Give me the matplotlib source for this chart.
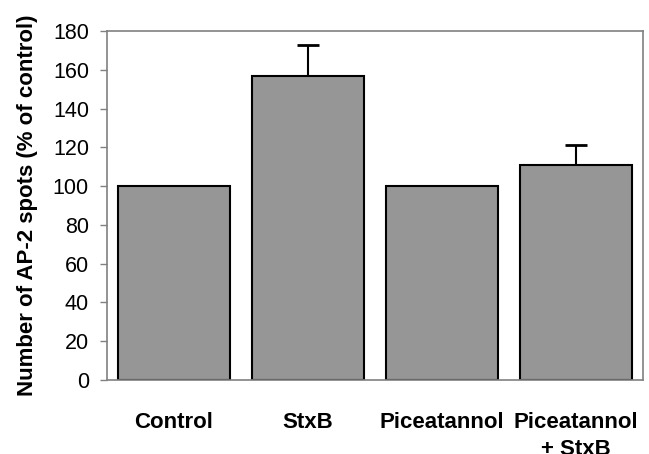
import numpy as np
import matplotlib.pyplot as plt

plt.rcParams['font.family'] = ['Liberation Sans', 'DejaVu Sans']

kategorie = ['Control', 'StxB', 'Piceatannol', 'Piceatannol\n+ StxB']
wartosci = [100, 157, 100, 111]
bledy = [0, 16, 0, 10]

fig = plt.figure(figsize=(6.49, 4.54), dpi=100)
ax = fig.add_axes([107 / 649, 1 - 380 / 454, 536 / 649, 349 / 454])

x = np.arange(len(kategorie))
ax.bar(x, wartosci, width=0.835, color='#969696', edgecolor='black', linewidth=1.5, zorder=2)
err = np.array([np.zeros(len(bledy)), bledy])
maska = np.array(bledy) > 0
ax.errorbar(x[maska], np.array(wartosci)[maska], yerr=err[:, maska], fmt='none',
            ecolor='black', elinewidth=1.5, capsize=8, capthick=2, zorder=1)

ax.set_xlim(-0.5, 3.5)
ax.set_ylim(0, 180)
ax.set_yticks(np.arange(0, 181, 20))
ax.set_xticks(x)
ax.set_xticklabels(kategorie, fontweight='bold', fontsize=16, linespacing=1.37, va='top')
ax.tick_params(axis='x', length=0, pad=23)
ax.tick_params(axis='y', length=5, width=1, color='#808080', labelsize=15.5, pad=8, direction='out')
for s in ax.spines.values():
    s.set_color('#808080')
    s.set_linewidth(1.2)

ax.set_ylabel('Number of AP-2 spots (% of control)', fontweight='bold', fontsize=16, labelpad=11)

fig.savefig('out.png', dpi=100)
